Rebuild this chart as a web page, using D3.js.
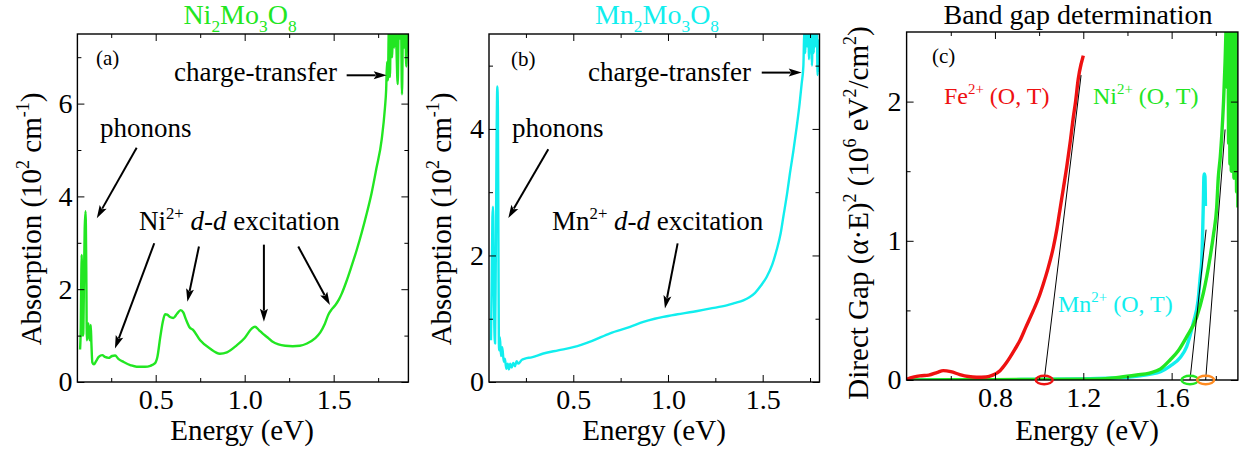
<!DOCTYPE html>
<html><head><meta charset="utf-8">
<script src="https://cdn.jsdelivr.net/npm/d3@7"></script>
<style>
html,body{margin:0;padding:0;background:#fff;}
svg{display:block;font-family:"Liberation Serif","Times New Roman",serif;}
text{white-space:pre;}
</style></head>
<body><svg id="c" width="1239" height="450"></svg>
<script>
// ---------------- DATA ----------------
// Panel (a) Ni2Mo3O8 absorption (10^2 cm^-1) vs energy (eV)
const niEnergy = [0.075,0.079,0.082,0.084,0.087,0.090,0.093,0.097,0.101,0.106,0.110,0.113,0.118,0.122,0.127,0.131,0.135,0.139,0.144,0.153,0.165,0.180,0.200,0.215,0.235,0.255,0.272,0.290,0.320,0.360,0.393,0.440,0.470,0.495,0.510,0.525,0.540,0.553,0.565,0.580,0.599,0.620,0.640,0.655,0.670,0.690,0.711,0.750,0.805,0.861,0.900,0.955,1.000,1.039,1.058,1.080,1.100,1.125,1.153,1.190,1.228,1.270,1.310,1.350,1.395,1.425,1.450,1.470,1.490,1.510,1.530,1.546,1.570,1.600,1.630,1.657,1.685,1.713,1.740,1.770,1.788,1.795,1.800,1.805,1.810,1.816,1.822,1.828,1.834,1.840,1.846,1.852,1.860,1.866,1.872,1.878,1.884,1.890,1.896,1.902,1.908,1.914,1.920];
const niAbs    = [0.70,1.20,2.30,2.74,1.80,1.00,1.05,2.20,3.30,3.68,2.40,0.90,1.10,1.26,0.95,0.90,1.23,0.80,0.42,0.38,0.45,0.54,0.58,0.54,0.52,0.56,0.57,0.50,0.43,0.36,0.33,0.33,0.35,0.40,0.55,0.95,1.30,1.46,1.45,1.40,1.38,1.47,1.55,1.50,1.35,1.18,1.12,0.90,0.72,0.61,0.64,0.79,0.95,1.15,1.19,1.12,1.05,0.97,0.88,0.81,0.78,0.77,0.78,0.83,0.94,1.07,1.25,1.45,1.57,1.66,1.78,1.91,2.15,2.49,2.85,3.21,3.62,4.07,4.60,5.23,5.90,6.30,6.90,6.50,7.60,6.57,7.80,7.00,7.90,7.20,7.90,7.30,6.42,7.80,7.40,8.00,6.20,7.80,7.20,7.90,6.80,7.70,7.10];

// Panel (b) Mn2Mo3O8 absorption (10^2 cm^-1) vs energy (eV)
const mnEnergy = [0.0655,0.069,0.073,0.076,0.079,0.083,0.087,0.091,0.095,0.099,0.102,0.105,0.108,0.113,0.118,0.125,0.133,0.139,0.146,0.154,0.160,0.167,0.175,0.183,0.192,0.201,0.210,0.228,0.245,0.280,0.342,0.420,0.500,0.600,0.694,0.800,0.870,0.930,0.975,1.050,1.134,1.220,1.310,1.350,1.398,1.430,1.460,1.490,1.521,1.550,1.574,1.595,1.609,1.630,1.644,1.662,1.680,1.695,1.706,1.715,1.720,1.725,1.730,1.735,1.740,1.745,1.750,1.755,1.760,1.765,1.770,1.775,1.780,1.785,1.790,1.795,1.800];
const mnAbs    = [0.66,1.50,2.60,2.77,2.00,0.90,0.61,2.00,3.80,4.67,4.30,2.00,0.50,0.71,0.41,0.55,0.32,0.37,0.21,0.29,0.20,0.29,0.23,0.30,0.25,0.33,0.29,0.35,0.37,0.39,0.45,0.50,0.55,0.65,0.77,0.87,0.95,1.00,1.03,1.07,1.11,1.16,1.21,1.245,1.29,1.34,1.41,1.52,1.66,1.85,2.09,2.35,2.61,3.00,3.30,3.65,4.04,4.40,4.72,5.00,5.60,5.20,5.70,5.30,5.80,5.10,5.70,5.60,5.00,5.70,5.20,5.80,5.30,5.70,4.85,5.40,4.90];

// Panel (c) direct gap (alpha*E)^2 (10^6 eV^2/cm^2) vs energy (eV)
const feGapE = [0.400,0.430,0.460,0.500,0.540,0.566,0.600,0.641,0.680,0.717,0.760,0.790,0.823,0.850,0.868,0.890,0.913,0.940,0.974,1.000,1.019,1.040,1.064,1.080,1.094,1.110,1.125,1.140,1.155,1.165,1.177,1.190,1.195,1.200];
const feGapY = [0.005,0.020,0.030,0.035,0.055,0.067,0.060,0.039,0.025,0.020,0.022,0.035,0.067,0.120,0.163,0.220,0.283,0.380,0.500,0.600,0.690,0.800,0.950,1.080,1.220,1.380,1.530,1.700,1.890,2.000,2.160,2.270,2.300,2.330];
const niGapE = [0.400,0.600,0.800,1.000,1.200,1.300,1.366,1.442,1.500,1.550,1.593,1.630,1.668,1.713,1.743,1.774,1.790,1.804,1.811,1.820,1.827,1.835,1.842,1.849,1.852,1.855,1.858,1.861,1.864,1.867,1.870,1.873,1.876,1.879,1.882,1.885,1.888,1.891,1.894,1.897,1.900];
const niGapY = [0.000,0.002,0.003,0.004,0.006,0.010,0.020,0.036,0.050,0.080,0.144,0.210,0.310,0.450,0.620,0.880,1.050,1.240,1.450,1.600,1.760,2.000,2.290,2.600,2.100,2.700,1.700,2.600,1.550,2.700,1.500,2.600,1.800,2.700,1.450,2.600,1.600,2.700,1.350,2.500,1.240];
const mnGapE = [0.400,0.800,1.200,1.400,1.500,1.550,1.593,1.638,1.668,1.698,1.720,1.730,1.736,1.741,1.744,1.746,1.748,1.751,1.753];
const mnGapY = [0.000,0.002,0.008,0.020,0.040,0.060,0.100,0.160,0.240,0.410,0.575,0.750,0.850,1.100,1.300,1.460,1.480,1.460,1.250];

// linear extrapolation lines [x1, y1, x2, y2] and gap markers
const fitLines = [[1.023,0,1.190,2.19],[1.683,0,1.756,1.08],[1.754,0,1.842,1.80]];
const gapMarks = [1.023,1.683,1.754];
const gapMarkColors = ["#ee1111","#22e622","#ff8a1e"];

// tick values
const ticksA = {x:[0.5,1.0,1.5], xm:[0.25,0.75,1.25,1.75], y:[0,2,4,6], ym:[1,3,5,7]};
const ticksB = {x:[0.5,1.0,1.5], xm:[0.25,0.75,1.25,1.75], y:[0,2,4], ym:[1,3,5]};
const ticksC = {x:[0.8,1.2,1.6], xm:[0.6,1.0,1.4,1.8], y:[0,1,2], ym:[0.5,1.5]};

// ---------------- DRAWING ----------------
const GREEN = "#22e622", CYAN = "#11eeee", RED = "#ee1111";
const svg = d3.select("#c");

function rich(t, parts, size){
  let shift = 0;
  parts.forEach(p=>{
    const ts = t.append("tspan").text(p.t);
    const target = p.sup ? -0.42*size : (p.sub ? 0.27*size : 0);
    if (target - shift !== 0) ts.attr("dy", target - shift);
    shift = target;
    if (p.sup || p.sub) ts.attr("font-size", size*0.62);
    if (p.it) ts.attr("font-style","italic");
  });
  return t;
}
function label(x, y, parts, size, color, anchor){
  const t = svg.append("text").attr("x",x).attr("y",y).attr("font-size",size)
    .attr("fill",color||"#000").attr("text-anchor",anchor||"start");
  return rich(t, parts, size);
}

function panel(id, xd, xr, yd, yr, ticks, fmtX, fmtY){
  const x = d3.scaleLinear().domain(xd).range(xr);
  const y = d3.scaleLinear().domain(yd).range(yr);
  const g = svg.append("g");
  svg.append("clipPath").attr("id","clip"+id).append("rect")
    .attr("x",xr[0]).attr("y",yr[1]).attr("width",xr[1]-xr[0]).attr("height",yr[0]-yr[1]);
  const plot = g.append("g").attr("clip-path",`url(#clip${id})`);
  const axes = g.append("g");
  const mk = (axis, sc, vals, size, fmt, pad) => axis(sc).tickValues(vals).tickSize(-size).tickSizeOuter(0)
      .tickPadding(pad).tickFormat(fmt || (()=>""));
  axes.append("g").attr("transform",`translate(0,${yr[0]})`).call(mk(d3.axisBottom,x,ticks.x,7,fmtX,7));
  axes.append("g").attr("transform",`translate(0,${yr[0]})`).call(mk(d3.axisBottom,x,ticks.xm,4,null,7));
  axes.append("g").attr("transform",`translate(0,${yr[1]})`).call(mk(d3.axisTop,x,ticks.x,7,null,7));
  axes.append("g").attr("transform",`translate(0,${yr[1]})`).call(mk(d3.axisTop,x,ticks.xm,4,null,7));
  axes.append("g").attr("transform",`translate(${xr[0]},0)`).call(mk(d3.axisLeft,y,ticks.y,7,fmtY,5));
  axes.append("g").attr("transform",`translate(${xr[0]},0)`).call(mk(d3.axisLeft,y,ticks.ym,4,null,5));
  axes.append("g").attr("transform",`translate(${xr[1]},0)`).call(mk(d3.axisRight,y,ticks.y,7,null,5));
  axes.append("g").attr("transform",`translate(${xr[1]},0)`).call(mk(d3.axisRight,y,ticks.ym,4,null,5));
  axes.selectAll(".domain").remove();
  axes.selectAll(".tick line").attr("stroke","#000").attr("stroke-width",1);
  axes.selectAll(".tick text").attr("font-size",28).attr("fill","#000")
    .attr("font-family",'"Liberation Serif","Times New Roman",serif');
  axes.append("rect").attr("x",xr[0]).attr("y",yr[1]).attr("width",xr[1]-xr[0]).attr("height",yr[0]-yr[1])
    .attr("fill","none").attr("stroke","#000").attr("stroke-width",1.4);
  return {x, y, plot, g};
}

function drawLine(P, xs, ys, color, w){
  const pts = xs.map((e,i)=>[e, ys[i]]);
  P.plot.append("path").datum(pts)
    .attr("d", d3.line().curve(d3.curveMonotoneX).x(d=>P.x(d[0])).y(d=>P.y(d[1])))
    .attr("fill","none").attr("stroke",color).attr("stroke-width",w).attr("stroke-linejoin","round");
}

function arrow(P, x1, y1, x2, y2){
  const a = [P.x(x1), P.y(y1)], b = [P.x(x2), P.y(y2)];
  const dx = b[0]-a[0], dy = b[1]-a[1], L = Math.hypot(dx,dy), ux = dx/L, uy = dy/L;
  const hl = 13, hw = 4;
  svg.append("line").attr("x1",a[0]).attr("y1",a[1]).attr("x2",b[0]-ux*(hl-2)).attr("y2",b[1]-uy*(hl-2))
    .attr("stroke","#000").attr("stroke-width",2);
  const bx = b[0]-ux*hl, by = b[1]-uy*hl;
  svg.append("path").attr("d",`M${b[0]},${b[1]} L${bx-uy*hw},${by+ux*hw} L${b[0]-ux*hl*0.8},${b[1]-uy*hl*0.8} L${bx+uy*hw},${by-ux*hw} Z`)
    .attr("fill","#000");
}

const f1 = d3.format(".1f"), f0 = d3.format("d");
const TITLE_Y = 24, XLAB_Y = 440;

// ---- Panel (a)
const A = panel("a", [0.06,1.92], [77.4,408.4], [0,7.5], [382,34], ticksA, f1, f0);
drawLine(A, niEnergy, niAbs, GREEN, 2.4);
label(240, TITLE_Y, [{t:"Ni"},{t:"2",sub:true},{t:"Mo"},{t:"3",sub:true},{t:"O"},{t:"8",sub:true}], 28, GREEN, "middle");
label(96, 65, [{t:"(a)"}], 21);
label(174, 81, [{t:"charge-transfer"}], 27);
label(100, 137, [{t:"phonons"}], 27);
label(139, 230, [{t:"Ni"},{t:"2+",sup:true},{t:" "},{t:"d-d",it:true},{t:" excitation"}], 27);
arrow(A, 1.573, 6.61, 1.798, 6.61);
arrow(A, 0.393, 5.05, 0.169, 3.53);
arrow(A, 0.492, 2.99, 0.271, 0.72);
arrow(A, 0.743, 2.92, 0.678, 1.73);
arrow(A, 1.108, 2.96, 1.108, 1.30);
arrow(A, 1.301, 2.92, 1.479, 1.66);
svg.append("text").attr("font-size",29).attr("text-anchor","middle")
  .attr("transform",`translate(242,${XLAB_Y})`).text("Energy (eV)");
rich(svg.append("text").attr("font-size",29).attr("text-anchor","middle").attr("transform","translate(41,219) rotate(-90)"),
  [{t:"Absorption (10"},{t:"2",sup:true},{t:" cm"},{t:"-1",sup:true},{t:")"}], 29);

// ---- Panel (b)
const B = panel("b", [0.055,1.8], [489.0,819.5], [0,5.5], [382,34], ticksB, f1, f0);
drawLine(B, mnEnergy, mnAbs, CYAN, 2.4);
label(657, TITLE_Y, [{t:"Mn"},{t:"2",sub:true},{t:"Mo"},{t:"3",sub:true},{t:"O"},{t:"8",sub:true}], 28, CYAN, "middle");
label(511, 66, [{t:"(b)"}], 21);
label(588, 81, [{t:"charge-transfer"}], 27);
label(512, 137, [{t:"phonons"}], 27);
label(552, 230, [{t:"Mn"},{t:"2+",sup:true},{t:" "},{t:"d-d",it:true},{t:" excitation"}], 27);
arrow(B, 1.495, 4.89, 1.706, 4.89);
arrow(B, 0.368, 3.68, 0.157, 2.59);
arrow(B, 1.051, 2.19, 0.984, 1.16);
svg.append("text").attr("font-size",29).attr("text-anchor","middle")
  .attr("transform",`translate(654,${XLAB_Y})`).text("Energy (eV)");
rich(svg.append("text").attr("font-size",29).attr("text-anchor","middle").attr("transform","translate(451,219) rotate(-90)"),
  [{t:"Absorption (10"},{t:"2",sup:true},{t:" cm"},{t:"-1",sup:true},{t:")"}], 29);

// ---- Panel (c)
const C = panel("c", [0.4,1.9], [906.6,1237.9], [0,2.5], [380,32], ticksC, f1, f0);
drawLine(C, mnGapE, mnGapY, CYAN, 3.4);
drawLine(C, niGapE, niGapY, GREEN, 3.4);
drawLine(C, feGapE, feGapY, RED, 3.4);
fitLines.forEach(l=>{
  C.g.append("line").attr("x1",C.x(l[0])).attr("y1",C.y(l[1])).attr("x2",C.x(l[2])).attr("y2",C.y(l[3]))
    .attr("stroke","#000").attr("stroke-width",1);
});
gapMarks.forEach((e,i)=>{
  C.g.append("ellipse").attr("cx",C.x(e)).attr("cy",C.y(0)).attr("rx",8.5).attr("ry",4.3)
    .attr("fill","none").attr("stroke",gapMarkColors[i]).attr("stroke-width",2.4);
});
label(1078, TITLE_Y, [{t:"Band gap determination"}], 28, "#000", "middle");
label(932, 63, [{t:"(c)"}], 21);
label(944, 104, [{t:"Fe"},{t:"2+",sup:true},{t:" (O, T)"}], 24, RED);
label(1093, 104, [{t:"Ni"},{t:"2+",sup:true},{t:" (O, T)"}], 24, GREEN);
label(1058, 312, [{t:"Mn"},{t:"2+",sup:true},{t:" (O, T)"}], 24, CYAN);
svg.append("text").attr("font-size",29).attr("text-anchor","middle")
  .attr("transform",`translate(1087,${XLAB_Y})`).text("Energy (eV)");
rich(svg.append("text").attr("font-size",29).attr("text-anchor","middle").attr("transform","translate(868,213) rotate(-90)"),
  [{t:"Direct Gap (α·E)"},{t:"2",sup:true},{t:" (10"},{t:"6",sup:true},{t:" eV"},{t:"2",sup:true},{t:"/cm"},{t:"2",sup:true},{t:")"}], 29);
</script></body></html>
